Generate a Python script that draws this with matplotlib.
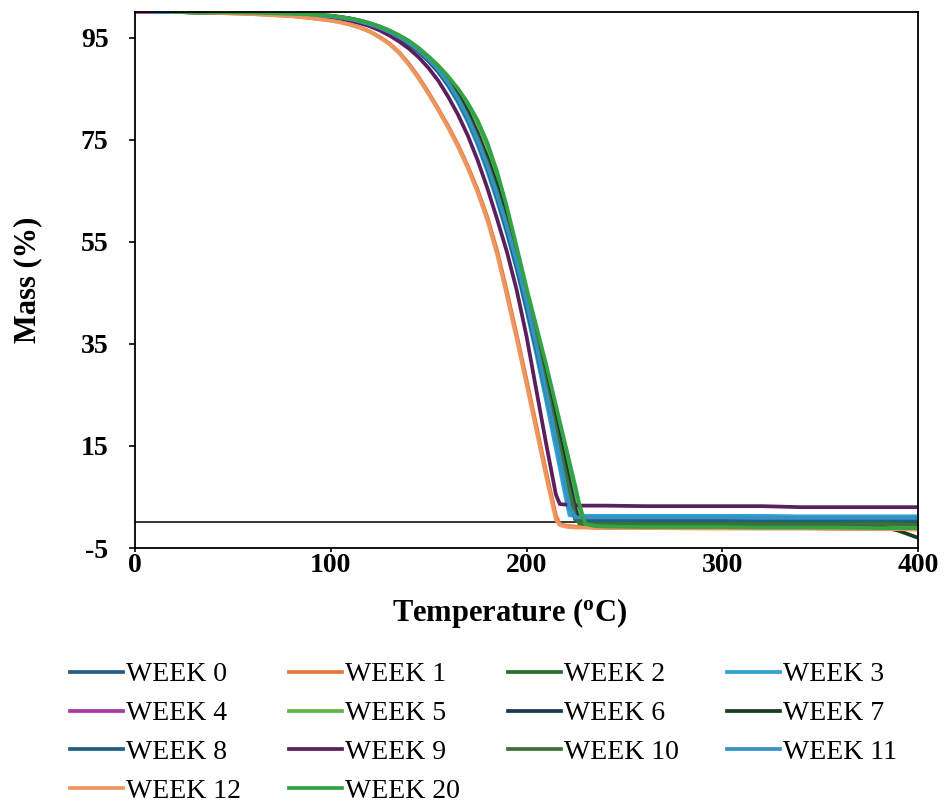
import numpy as np
import matplotlib
matplotlib.use("Agg")
import matplotlib.pyplot as plt

nan = np.nan

# Temperature grid (°C)
temperature = [0, 10, 20, 40, 60, 80, 90,
               100, 105, 110, 115, 120, 125, 130, 135, 140, 145, 150, 155, 160, 165,
               170, 175, 180, 185, 190, 195, 200, 205, 210, 215,
               217, 220, 222, 225, 227, 230,
               235, 240, 260, 300, 320, 340, 360, 380, 390, 400]

week0 = [nan, nan, 100, 99.9, 99.8, 99.6, 99.38,
         99.15, 98.9, 98.6, 98.1, 97.5, 96.85, 96.0, 95.0, 93.8, 92.3, 90.5, 88.45, 86.0, 82.95,
         79.35, 75.0, 69.95, 64.2, 57.75, 50.65, 42.9, 34.75, 26.3, 17.55,
         14.05, 8.75, 5.25, 0.8, 0.7, 0.6,
         0.6, 0.6, 0.6, 0.6, 0.6, 0.5, 0.5, 0.5, 0.5, 0.5]
week1 = [nan, nan, 100, 99.85, 99.6, 99.2, 98.8,
         98.34, 97.99, 97.55, 96.97, 96.2, 95.12, 93.85, 92.1, 89.85, 87.2, 84.2, 81.0, 77.65, 74.0,
         69.85, 65.2, 59.8, 53.25, 45.25, 36.75, 28.0, 19.0, 10.0, 1.4,
         -0.3, -0.6, -0.7, -0.8, -0.9, -0.9,
         -0.9, -1.0, -1.0, -1.0, -1.0, -1.1, -1.1, -1.1, -1.1, -1.2]
week2 = [nan, nan, 100, 99.9, 99.8, 99.6, 99.4,
         99.2, 98.95, 98.65, 98.2, 97.65, 97.0, 96.2, 95.2, 94.05, 92.6, 90.9, 88.9, 86.5, 83.6,
         80.1, 75.9, 71.0, 65.4, 59.1, 52.1, 44.5, 36.4, 28.0, 19.3,
         15.8, 10.5, 7.0, 1.7, -0.2, -0.4,
         -0.4, -0.5, -0.5, -0.5, -0.5, -0.5, -0.5, -0.5, -0.5, -0.6]
week3 = [nan, 100, 100, 99.9, 99.8, 99.55, 99.35,
         99.1, 98.85, 98.5, 98.05, 97.5, 96.8, 95.95, 94.9, 93.7, 92.2, 90.4, 88.2, 85.5, 82.3,
         78.5, 74.0, 68.8, 63.0, 56.6, 49.6, 41.6, 33.0, 23.9, 14.5,
         10.7, 4.9, 1.4, 1.3, 1.3, 1.3,
         1.3, 1.3, 1.3, 1.3, 1.3, 1.2, 1.2, 1.2, 1.2, 1.2]
week4 = [100, 100, 100, 99.95, 99.85, 99.65, 99.5,
         99.27, 99.0, 98.7, 98.3, 97.77, 97.1, 96.28, 95.3, 94.17, 92.74, 91.05, 89.23, 87.1, 84.65,
         81.8, 78.25, 73.7, 67.8, 60.8, 52.9, 44.9, 37.45, 29.9, 21.9,
         18.7, 13.9, 10.7, 5.9, 2.6, -0.4,
         -0.6, -0.7, -0.7, -0.8, -0.8, -0.8, -0.8, -0.8, -0.9, -0.9]
week5 = [nan, nan, 100, 99.95, 99.85, 99.65, 99.5,
         99.27, 99.0, 98.7, 98.3, 97.77, 97.1, 96.28, 95.3, 94.17, 92.74, 91.05, 89.23, 87.1, 84.65,
         81.8, 78.25, 73.7, 67.8, 60.8, 52.9, 44.9, 37.45, 29.9, 21.9,
         18.7, 13.9, 10.7, 5.9, 2.6, -0.4,
         -0.6, -0.7, -0.7, -0.8, -0.8, -0.8, -0.8, -0.8, -0.9, -0.9]
week6 = [nan, nan, 100, 99.9, 99.8, 99.6, 99.4,
         99.22, 98.98, 98.7, 98.25, 97.7, 97.1, 96.3, 95.3, 94.2, 92.75, 91.1, 89.1, 86.75, 83.9,
         80.5, 76.35, 71.5, 66.0, 59.75, 52.85, 45.3, 37.2, 28.85, 20.15,
         16.7, 11.4, 7.9, 2.6, 0.3, 0.2,
         0.2, 0.2, 0.2, 0.2, 0.2, 0.2, 0.2, 0.2, 0.2, 0.2]
week7 = [nan, nan, 100, 99.9, 99.8, 99.6, 99.4,
         99.2, 98.95, 98.65, 98.2, 97.65, 97.0, 96.2, 95.2, 94.05, 92.6, 90.9, 88.9, 86.5, 83.6,
         80.1, 75.9, 71.0, 65.4, 59.1, 52.1, 44.5, 36.4, 28.0, 19.3,
         15.8, 10.5, 7.0, 1.7, 0.0, -0.3,
         -0.3, -0.4, -0.4, -0.4, -0.4, -0.4, -0.5, -0.7, -1.6, -3.0]
week8 = [nan, nan, 100, 99.9, 99.8, 99.6, 99.35,
         99.1, 98.85, 98.55, 98.05, 97.45, 96.8, 95.95, 94.9, 93.65, 92.15, 90.35, 88.25, 85.7, 82.65,
         78.95, 74.55, 69.4, 63.6, 57.1, 49.9, 42.1, 33.9, 25.4, 16.7,
         13.2, 7.9, 4.4, 0.5, 0.4, 0.4,
         0.4, 0.4, 0.4, 0.4, 0.4, 0.4, 0.4, 0.4, 0.4, 0.4]
week9 = [nan, nan, 100, 99.9, 99.75, 99.5, 99.3,
         99.0, 98.7, 98.3, 97.8, 97.2, 96.4, 95.4, 94.2, 92.8, 91.1, 89.0, 86.5, 83.4, 79.9,
         75.8, 71.0, 65.5, 59.4, 53.0, 45.5, 36.5, 26.0, 15.5, 5.5,
         3.6, 3.5, 3.5, 3.4, 3.3, 3.3,
         3.3, 3.3, 3.2, 3.2, 3.2, 3.0, 3.0, 3.0, 3.0, 3.0]
week10 = [nan, nan, 100, 99.9, 99.8, 99.6, 99.4,
          99.18, 98.92, 98.6, 98.15, 97.6, 96.9, 96.1, 95.1, 93.9, 92.45, 90.7, 88.7, 86.25, 83.3,
          79.7, 75.45, 70.5, 64.8, 58.45, 51.35, 43.7, 35.6, 27.15, 18.45,
          14.9, 9.6, 6.1, 1.0, -0.1, -0.2,
          -0.3, -0.3, -0.3, -0.3, -0.3, -0.3, -0.3, -0.3, -0.3, -0.4]
week11 = [nan, 100, 100, 99.9, 99.8, 99.6, 99.4,
          99.15, 98.9, 98.6, 98.15, 97.6, 96.95, 96.1, 95.1, 93.95, 92.5, 90.8, 88.7, 86.1, 83.0,
          79.3, 74.9, 69.9, 64.2, 57.9, 51.0, 43.2, 34.7, 25.7, 16.4,
          12.6, 6.8, 3.0, 1.0, 1.0, 1.0,
          1.0, 1.0, 1.0, 1.0, 0.9, 0.9, 0.9, 0.9, 0.9, 0.9]
week12 = [nan, nan, 100, 99.85, 99.6, 99.2, 98.8,
          98.3, 97.95, 97.5, 96.9, 96.1, 95.0, 93.7, 91.9, 89.6, 86.9, 83.9, 80.7, 77.3, 73.6,
          69.4, 64.7, 59.2, 52.5, 44.4, 35.9, 27.1, 18.1, 9.1, 0.6,
          -0.5, -0.8, -0.9, -1.0, -1.0, -1.0,
          -1.1, -1.1, -1.1, -1.2, -1.2, -1.2, -1.3, -1.3, -1.3, -1.4]
week20 = [nan, nan, 100, 99.95, 99.85, 99.65, 99.5,
          99.3, 99.05, 98.75, 98.35, 97.85, 97.2, 96.4, 95.45, 94.35, 92.95, 91.3, 89.5, 87.4, 85.0,
          82.2, 78.8, 74.4, 68.7, 61.8, 54.0, 46.0, 38.5, 31.0, 23.0,
          19.8, 15.0, 11.8, 7.0, 3.6, -0.3,
          -0.7, -0.8, -0.9, -0.9, -1.0, -1.0, -1.0, -1.1, -1.1, -1.1]

labels = ["WEEK 0", "WEEK 1", "WEEK 2", "WEEK 3", "WEEK 4", "WEEK 5", "WEEK 6", "WEEK 7",
          "WEEK 8", "WEEK 9", "WEEK 10", "WEEK 11", "WEEK 12", "WEEK 20"]
series = [week0, week1, week2, week3, week4, week5, week6, week7, week8, week9,
          week10, week11, week12, week20]
colors = ["#255E86", "#E2783C", "#2B6E2E", "#2EA1D6", "#A53AA3", "#5CB545", "#163A55",
          "#173F1F", "#1F6184", "#5A1F5C", "#3E7336", "#3592C2", "#EE9660", "#33A346"]

yticks = [-5, 15, 35, 55, 75, 95]
xticks = [0, 100, 200, 300, 400]

plt.rcParams['font.family'] = ['Liberation Serif', 'DejaVu Serif']
plt.rcParams['axes.unicode_minus'] = False
plt.rcParams['mathtext.fontset'] = 'custom'
plt.rcParams['mathtext.rm'] = 'Liberation Serif'
plt.rcParams['mathtext.bf'] = 'Liberation Serif:bold'
plt.rcParams['mathtext.it'] = 'Liberation Serif:italic'

fig = plt.figure(figsize=(9.44, 8.05), dpi=100)
ax = fig.add_axes([135 / 944, 1 - 548 / 805, (918 - 135) / 944, (548 - 12) / 805])

ax.axhline(0, color='black', lw=1.1, zorder=1)
handles = []
for lab, vals, col in zip(labels, series, colors):
    h, = ax.plot(temperature, vals, color=col, lw=2.7, label=lab, zorder=2,
                 solid_joinstyle='round')
    handles.append(h)

ax.set_xlim(0, 400)
ax.set_ylim(-5, 100)
ax.set_xticks(xticks)
ax.set_yticks(yticks)
ax.tick_params(axis='y', direction='out', length=4, width=1.2, pad=15, labelsize=20)
ax.tick_params(axis='x', direction='out', length=3, width=1.2, pad=0.5, labelsize=20)
for lbl in ax.get_xticklabels() + ax.get_yticklabels():
    lbl.set_fontweight('bold')
for sp in ax.spines.values():
    sp.set_linewidth(1.3)
    sp.set_color('black')

fig.text(510 / 944, 1 - 613 / 805, r'Temperature ($^{\mathbf{o}}$C)', ha='center', va='center',
         fontsize=22, fontweight='bold')
fig.text(28 / 944, 1 - 280 / 805, 'Mass (%)', ha='center', va='center', rotation=90,
         fontsize=22, fontweight='bold')

order = [0, 4, 8, 12, 1, 5, 9, 13, 2, 6, 10, 3, 7, 11]
fig.legend([handles[i] for i in order], [labels[i] for i in order],
           loc='upper left', bbox_to_anchor=(70 / 944, 1 - 662 / 805), ncol=4,
           frameon=False, fontsize=20, handlelength=1.9, handletextpad=0.1,
           columnspacing=1.75, labelspacing=0.48, borderpad=0, borderaxespad=0)

fig.savefig("out.png", dpi=100)
